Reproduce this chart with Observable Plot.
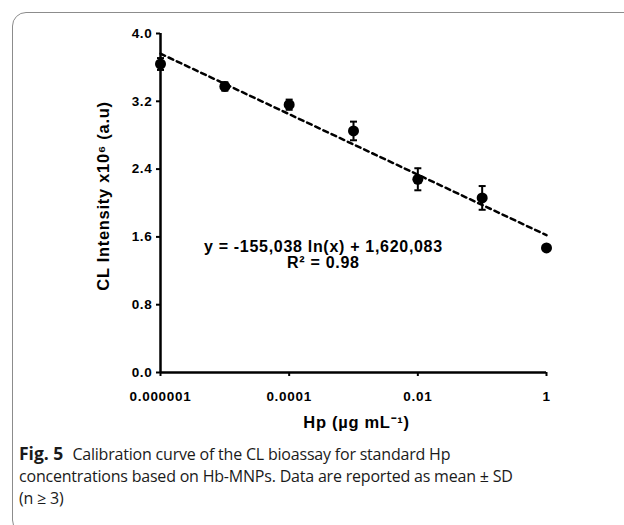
<!DOCTYPE html>
<html><head><meta charset="utf-8">
<script src="https://cdn.jsdelivr.net/npm/d3@7"></script>
<script src="https://cdn.jsdelivr.net/npm/@observablehq/plot@0.6"></script>
<style>
html,body{margin:0;padding:0;background:#fff;width:624px;height:525px;overflow:hidden;position:relative;}
#frame{position:absolute;left:12px;top:12px;width:700px;height:522px;border:1.5px solid #8c8c8c;border-radius:14px;box-sizing:border-box;}
#chart{position:absolute;left:0;top:0;}
#chart svg text{letter-spacing:0.7px;}
#caption{position:absolute;left:19px;top:442px;width:600px;font-family:"Open Sans",sans-serif;font-size:16px;line-height:22px;color:#1a1a1a;white-space:nowrap;letter-spacing:-0.2px;}
#caption b{font-weight:700;font-size:17.5px;margin-right:9px;letter-spacing:0;}
</style>
</head><body>
<div id="frame"></div>
<div id="chart"></div>
<div id="caption"><b>Fig. 5</b>Calibration curve of the CL bioassay for standard Hp<br>concentrations based on Hb-MNPs. Data are reported as mean ± SD<br>(n ≥ 3)</div>
<script>
const concentrations = [1e-6, 1e-5, 1e-4, 1e-3, 1e-2, 1e-1, 1];
const intensity = [3.64, 3.375, 3.16, 2.85, 2.28, 2.06, 1.47];
const sd = [0.07, 0.05, 0.06, 0.11, 0.13, 0.14, 0];
const xTicks = [1e-6, 1e-4, 1e-2, 1];
const xTickLabels = ["0.000001", "0.0001", "0.01", "1"];
const yTicks = [0, 0.8, 1.6, 2.4, 3.2, 4.0];
const fitSlope = -155038, fitIntercept = 1620083, rSquared = 0.98;
const equationText = "y = -155,038 ln(x) + 1,620,083\nR² = 0.98";
const xTitle = "Hp (µg mL⁻¹)";
const yTitle = "CL Intensity x10⁶ (a.u)";

const data = concentrations.map((c, i) => ({x: c, y: intensity[i], sd: sd[i]}));
const errData = data.filter(d => d.sd > 0);
const fitX = [concentrations[0], concentrations[concentrations.length - 1]];
const fit = fitX.map(x => ({x, y: (fitSlope * Math.log(x) + fitIntercept) / 1e6}));

const capSymbol = {draw(context) { context.moveTo(-3.5, 0); context.lineTo(3.5, 0); }};

const chart = Plot.plot({
  width: 624, height: 440,
  marginLeft: 160, marginRight: 78, marginTop: 33, marginBottom: 68,
  x: {type: "log", domain: [1e-6, 1]},
  y: {domain: [0, 4]},
  style: {fontFamily: "'Liberation Sans', Arial, sans-serif", fontWeight: "bold", fontSize: "13.5px", color: "#000", background: "transparent"},
  marks: [
    Plot.axisX({ticks: xTicks, tickFormat: d => xTickLabels[xTicks.indexOf(d)], tickSize: 4, tickPadding: 15, strokeWidth: 2, fontSize: 13.5, label: null}),
    Plot.axisY({ticks: yTicks, tickFormat: d3.format(".1f"), tickSize: 4, tickPadding: 4, strokeWidth: 2, fontSize: 13.5, label: null}),
    Plot.ruleX([1e-6], {strokeWidth: 2.5}),
    Plot.ruleY([0], {strokeWidth: 2.5}),
    Plot.line(fit, {x: "x", y: "y", stroke: "#000", strokeWidth: 2.5, strokeDasharray: "5,4"}),
    Plot.ruleX(errData, {x: "x", y1: d => d.y - d.sd, y2: d => d.y + d.sd, stroke: "#000", strokeWidth: 2}),
    Plot.dot(errData, {x: "x", y: d => d.y + d.sd, symbol: capSymbol, stroke: "#000", strokeWidth: 2, fill: "none"}),
    Plot.dot(errData, {x: "x", y: d => d.y - d.sd, symbol: capSymbol, stroke: "#000", strokeWidth: 2, fill: "none"}),
    Plot.dot(data, {x: "x", y: "y", r: 5.5, fill: "#000", stroke: "none"}),
    Plot.text([equationText], {x: 3.4e-4, y: 1.39, fontSize: 16, lineHeight: 1.02, textAnchor: "middle", fill: "#000"}),
    Plot.text([yTitle], {frameAnchor: "left", dx: -57, dy: -7, rotate: -90, textAnchor: "middle", lineAnchor: "middle", fontSize: 16.5, fill: "#000"}),
    Plot.text([xTitle], {frameAnchor: "bottom", dx: 3, dy: 50, textAnchor: "middle", lineAnchor: "middle", fontSize: 16.5, fill: "#000"})
  ]
});
document.getElementById("chart").appendChild(chart);
</script>
</body></html>
